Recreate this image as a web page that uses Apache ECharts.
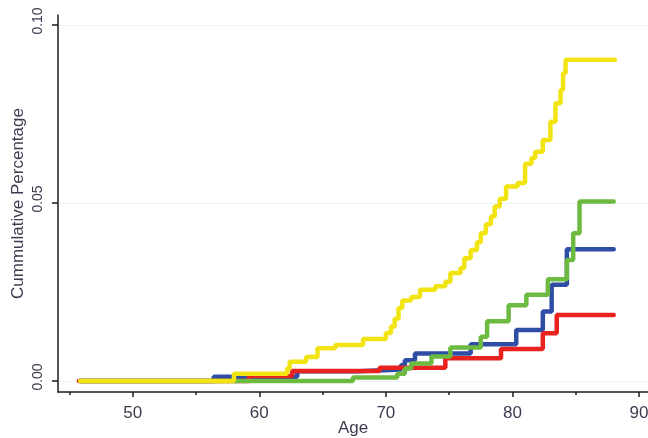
<!DOCTYPE html>
<html>
<head>
<meta charset="utf-8">
<script src="https://cdn.jsdelivr.net/npm/echarts@6/dist/echarts.min.js"></script>
<style>
html,body{margin:0;padding:0;background:#fff;}
#chart{width:648px;height:438px;}
</style>
</head>
<body>
<div id="chart"></div>
<script>
// Tick labels
var xTickLabels = [50, 60, 70, 80, 90];
var xMinorTicks = [45, 55, 65, 75, 85];
var yTickLabels = [0, 0.05, 0.10];

// Cumulative curves: [age, value after event]
var blueSteps = [[45.85,0],[56.4,0.0012],[63.0,0.0027],[67.9,0.0032],[71.2,0.0045],[71.5,0.0058],[72.3,0.0077],[76.7,0.0103],[80.3,0.0143],[82.4,0.0195],[83.1,0.027],[84.3,0.037],[88.0,0.037]];
var redSteps = [[45.75,0],[59.2,0.0014],[62.6,0.0028],[69.5,0.0037],[74.7,0.0064],[79.1,0.009],[82.4,0.0134],[83.5,0.0185],[88.0,0.0185]];
var greenSteps = [[45.85,0],[67.4,0.001],[70.9,0.002],[71.5,0.0035],[72.0,0.0049],[73.6,0.0069],[75.1,0.0094],[77.5,0.0124],[78.0,0.0168],[79.7,0.0213],[81.1,0.0242],[82.8,0.0286],[84.3,0.034],[84.8,0.0415],[85.3,0.0504],[88.0,0.0504]];
var yellowSteps = [[45.85,0],[58.0,0.002],[62.2,0.0035],[62.4,0.0054],[63.7,0.0067],[64.6,0.0092],[66.0,0.0101],[68.2,0.0118],[70.0,0.0135],[70.4,0.0153],[70.7,0.0175],[71.0,0.0205],[71.3,0.0226],[72.0,0.0236],[72.7,0.0256],[73.9,0.0266],[74.7,0.0279],[75.1,0.0303],[75.9,0.0317],[76.2,0.0345],[76.7,0.0368],[77.2,0.039],[77.5,0.0415],[77.9,0.044],[78.3,0.0462],[78.6,0.049],[79.0,0.0512],[79.5,0.0546],[80.4,0.0556],[81.0,0.061],[81.5,0.0626],[81.8,0.0644],[82.4,0.0677],[83.0,0.0728],[83.4,0.078],[83.8,0.0817],[84.0,0.0865],[84.2,0.0902],[88.1,0.0902]];

var labelColor = '#3c3c50';
var fontName = 'Liberation Sans, Arial, sans-serif';
function stepSeries(name, data, color, z) {
  return {
    name: name, type: 'line', step: 'end', data: data, z: z,
    showSymbol: false, symbol: 'none', animation: false,
    lineStyle: { color: color, width: 4.5, cap: 'round' },
    xAxisIndex: 0, yAxisIndex: 0
  };
}

var chart = echarts.init(document.getElementById('chart'), null, { renderer: 'canvas' });
chart.setOption({
  backgroundColor: '#ffffff',
  animation: false,
  grid: { left: 58, right: 0, top: 15, bottom: 46, containLabel: false, outerBoundsMode: 'none' },
  xAxis: [{
    type: 'value', min: 44.1, max: 90.71,
    name: 'Age', nameLocation: 'middle', nameGap: 28, nameMoveOverlap: false,
    nameTextStyle: { fontFamily: fontName, fontSize: 17, color: labelColor },
    axisLine: { show: true, onZero: false, lineStyle: { color: '#1e1e1e', width: 1.5 } },
    axisTick: { show: true, length: 5, customValues: xTickLabels, lineStyle: { color: '#1e1e1e', width: 1.5 } },
    axisLabel: { customValues: xTickLabels, margin: 13, fontFamily: fontName, fontSize: 17, color: labelColor },
    splitLine: { show: false }
  }, {
    type: 'value', min: 44.1, max: 90.71, position: 'bottom',
    axisLine: { show: false, onZero: false },
    axisTick: { show: true, length: 3, customValues: xMinorTicks, lineStyle: { color: '#1e1e1e', width: 1.5 } },
    axisLabel: { show: false },
    splitLine: { show: false }
  }],
  yAxis: [{
    type: 'value', min: -0.0031, max: 0.1028,
    name: 'Cummulative Percentage', nameLocation: 'middle', nameGap: 31, nameRotate: 90, nameMoveOverlap: false,
    nameTextStyle: { fontFamily: fontName, fontSize: 17, color: labelColor },
    axisLine: { show: true, onZero: false, lineStyle: { color: '#1e1e1e', width: 1.5 } },
    axisTick: { show: true, length: 6, customValues: yTickLabels, lineStyle: { color: '#1e1e1e', width: 1.5 } },
    axisLabel: {
      customValues: yTickLabels, rotate: 90, margin: 13,
      fontFamily: fontName, fontSize: 14, color: labelColor,
      padding: [0, 0, 0, 8],
      formatter: function (v) { return v.toFixed(2); }
    },
    splitLine: { show: true, lineStyle: { color: '#edf4f4', width: 1 } }
  }],
  series: [
    stepSeries('blue', blueSteps, '#2e4ea6', 2),
    stepSeries('red', redSteps, '#e8231f', 3),
    stepSeries('green', greenSteps, '#6cbb40', 4),
    stepSeries('yellow', yellowSteps, '#f2e412', 5)
  ]
});
</script>
</body>
</html>
